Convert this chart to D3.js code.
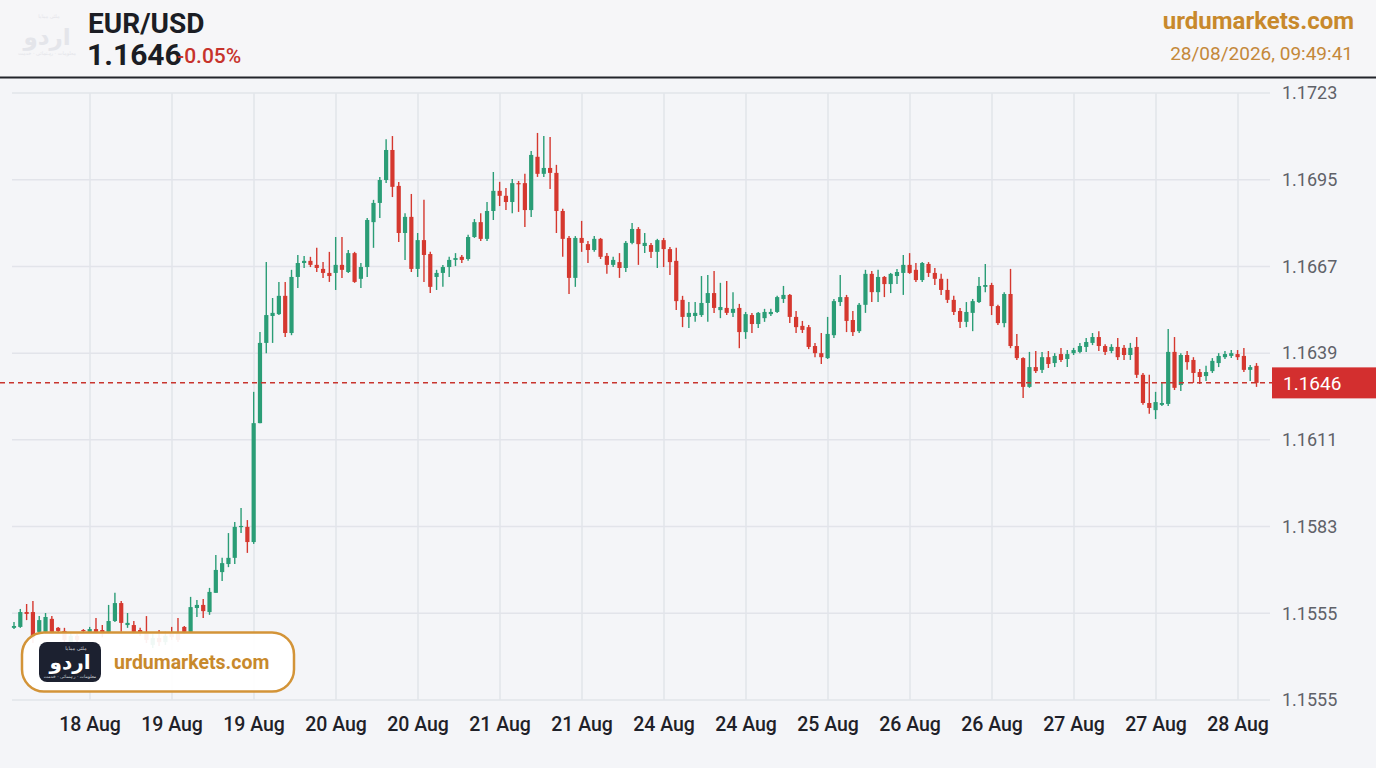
<!DOCTYPE html>
<html><head><meta charset="utf-8">
<script src="https://cdn.jsdelivr.net/npm/d3@7/dist/d3.min.js"></script>
<style>
html,body{margin:0;padding:0;background:#f4f5f8;}
svg{display:block;font-family:Roboto,"Noto Sans",sans-serif;}
</style></head><body>
<svg id="c" width="1376" height="768"></svg>
<script>
// ---------- DATA ----------
const symbol = "EUR/USD";
const lastPriceLabel = "1.1646";
const changeLabel = "-0.05%";
const siteName = "urdumarkets.com";
const timestamp = "28/08/2026, 09:49:41";
const dayLabels = ["18 Aug","19 Aug","19 Aug","20 Aug","20 Aug","21 Aug","21 Aug","24 Aug","24 Aug","25 Aug","26 Aug","26 Aug","27 Aug","27 Aug","28 Aug"];
const yTickValues = [1.1723,1.1695,1.1667,1.1639,1.1611,1.1583,1.1555,1.1527];
const yTickLabels = ["1.1723","1.1695","1.1667","1.1639","1.1611","1.1583","1.1555","1.1555"];

const opens = [
1.15503,1.15506,1.15554,1.15554,1.15490,1.15490,1.15532,1.15503,1.15493,1.15457,
1.15477,1.15496,1.15490,1.15499,1.15496,1.15490,1.15525,1.15583,1.15512,1.15512,
1.15496,1.15490,1.15448,1.15470,1.15457,1.15483,1.15486,1.15506,1.15490,1.15567,
1.15577,1.15554,1.15616,1.15683,1.15709,1.15729,1.15829,1.15829,1.15780,1.16164,
1.16423,1.16510,1.16516,1.16575,1.16455,1.16636,1.16681,1.16688,1.16675,1.16662,
1.16649,1.16649,1.16675,1.16652,1.16713,1.16630,1.16668,1.16813,1.16875,1.16949,
1.17046,1.16930,1.16778,1.16830,1.16662,1.16755,1.16710,1.16636,1.16649,1.16668,
1.16691,1.16701,1.16694,1.16765,1.16813,1.16759,1.16849,1.16914,1.16898,1.16878,
1.16939,1.16939,1.16852,1.17024,1.16969,1.16988,1.16972,1.16849,1.16762,1.16633,
1.16762,1.16742,1.16723,1.16759,1.16704,1.16675,1.16684,1.16665,1.16746,1.16791,
1.16736,1.16739,1.16717,1.16755,1.16726,1.16688,1.16562,1.16507,1.16510,1.16513,
1.16552,1.16584,1.16529,1.16536,1.16520,1.16536,1.16458,1.16513,1.16484,1.16503,
1.16516,1.16523,1.16565,1.16578,1.16507,1.16478,1.16474,1.16413,1.16390,1.16374,
1.16448,1.16555,1.16571,1.16497,1.16461,1.16546,1.16646,1.16587,1.16636,1.16613,
1.16639,1.16649,1.16675,1.16659,1.16626,1.16678,1.16649,1.16630,1.16594,1.16562,
1.16526,1.16491,1.16520,1.16555,1.16604,1.16610,1.16542,1.16487,1.16581,1.16413,
1.16374,1.16281,1.16345,1.16336,1.16377,1.16358,1.16387,1.16371,1.16390,1.16394,
1.16410,1.16423,1.16442,1.16413,1.16397,1.16410,1.16407,1.16384,1.16410,1.16320,
1.16229,1.16206,1.16223,1.16226,1.16394,1.16287,1.16384,1.16368,1.16329,1.16316,
1.16332,1.16358,1.16377,1.16381,1.16387,1.16381,1.16336,1.16349];

const highs = [
1.15522,1.15564,1.15580,1.15590,1.15541,1.15551,1.15541,1.15506,1.15503,1.15486,
1.15483,1.15499,1.15506,1.15535,1.15512,1.15577,1.15616,1.15590,1.15551,1.15525,
1.15503,1.15541,1.15483,1.15496,1.15490,1.15506,1.15535,1.15509,1.15603,1.15593,
1.15596,1.15632,1.15738,1.15729,1.15809,1.15845,1.15890,1.15851,1.16265,1.16458,
1.16684,1.16568,1.16620,1.16620,1.16659,1.16707,1.16704,1.16701,1.16730,1.16684,
1.16717,1.16765,1.16765,1.16723,1.16717,1.16681,1.16826,1.16885,1.16959,1.17081,
1.17091,1.16943,1.16842,1.16904,1.16778,1.16885,1.16717,1.16659,1.16675,1.16701,
1.16713,1.16707,1.16772,1.16823,1.16842,1.16878,1.16975,1.16943,1.16923,1.16952,
1.16946,1.16969,1.17043,1.17101,1.17091,1.17088,1.16998,1.16856,1.16768,1.16768,
1.16817,1.16752,1.16768,1.16762,1.16713,1.16701,1.16713,1.16752,1.16810,1.16797,
1.16778,1.16746,1.16759,1.16762,1.16733,1.16730,1.16575,1.16555,1.16555,1.16639,
1.16642,1.16655,1.16617,1.16623,1.16587,1.16549,1.16523,1.16520,1.16523,1.16533,
1.16533,1.16575,1.16607,1.16581,1.16526,1.16494,1.16481,1.16423,1.16455,1.16507,
1.16565,1.16642,1.16578,1.16526,1.16552,1.16659,1.16655,1.16659,1.16639,1.16649,
1.16662,1.16707,1.16713,1.16681,1.16684,1.16684,1.16665,1.16646,1.16630,1.16575,
1.16536,1.16555,1.16565,1.16636,1.16678,1.16617,1.16546,1.16587,1.16662,1.16452,
1.16377,1.16394,1.16397,1.16394,1.16397,1.16390,1.16407,1.16400,1.16407,1.16423,
1.16439,1.16455,1.16461,1.16419,1.16419,1.16439,1.16416,1.16423,1.16442,1.16326,
1.16320,1.16265,1.16294,1.16468,1.16442,1.16390,1.16397,1.16377,1.16339,1.16349,
1.16374,1.16390,1.16397,1.16400,1.16400,1.16407,1.16352,1.16358];

const lows = [
1.15499,1.15503,1.15528,1.15454,1.15480,1.15483,1.15483,1.15483,1.15451,1.15444,
1.15448,1.15490,1.15486,1.15483,1.15473,1.15483,1.15522,1.15490,1.15503,1.15483,
1.15477,1.15454,1.15438,1.15444,1.15448,1.15464,1.15457,1.15483,1.15486,1.15538,
1.15535,1.15545,1.15616,1.15654,1.15699,1.15709,1.15809,1.15745,1.15774,1.16164,
1.16390,1.16423,1.16513,1.16442,1.16448,1.16600,1.16665,1.16668,1.16652,1.16633,
1.16620,1.16594,1.16633,1.16649,1.16617,1.16600,1.16636,1.16730,1.16826,1.16939,
1.16894,1.16749,1.16691,1.16652,1.16636,1.16620,1.16584,1.16594,1.16604,1.16636,
1.16671,1.16681,1.16688,1.16762,1.16752,1.16752,1.16820,1.16865,1.16852,1.16842,
1.16846,1.16797,1.16830,1.16959,1.16959,1.16920,1.16778,1.16701,1.16581,1.16604,
1.16717,1.16681,1.16717,1.16694,1.16646,1.16668,1.16633,1.16652,1.16742,1.16675,
1.16713,1.16697,1.16665,1.16668,1.16642,1.16529,1.16474,1.16471,1.16491,1.16507,
1.16491,1.16520,1.16503,1.16513,1.16507,1.16406,1.16436,1.16455,1.16471,1.16491,
1.16510,1.16520,1.16552,1.16487,1.16455,1.16455,1.16403,1.16377,1.16355,1.16371,
1.16439,1.16542,1.16458,1.16445,1.16455,1.16520,1.16555,1.16555,1.16571,1.16584,
1.16613,1.16578,1.16646,1.16620,1.16620,1.16636,1.16610,1.16578,1.16552,1.16513,
1.16471,1.16474,1.16461,1.16552,1.16587,1.16513,1.16481,1.16474,1.16406,1.16368,
1.16245,1.16278,1.16326,1.16326,1.16342,1.16345,1.16361,1.16345,1.16384,1.16390,
1.16394,1.16416,1.16397,1.16384,1.16390,1.16368,1.16368,1.16368,1.16310,1.16223,
1.16194,1.16177,1.16219,1.16219,1.16271,1.16268,1.16336,1.16294,1.16290,1.16300,
1.16326,1.16345,1.16371,1.16374,1.16368,1.16329,1.16300,1.16281];

const closes = [
1.15509,1.15554,1.15548,1.15470,1.15528,1.15538,1.15490,1.15493,1.15464,1.15477,
1.15464,1.15493,1.15499,1.15490,1.15483,1.15525,1.15583,1.15519,1.15519,1.15490,
1.15486,1.15464,1.15470,1.15457,1.15477,1.15473,1.15464,1.15490,1.15570,1.15577,
1.15557,1.15619,1.15690,1.15712,1.15729,1.15829,1.15832,1.15780,1.16164,1.16423,
1.16513,1.16520,1.16575,1.16455,1.16636,1.16681,1.16688,1.16675,1.16665,1.16649,
1.16639,1.16675,1.16659,1.16713,1.16620,1.16668,1.16820,1.16875,1.16949,1.17046,
1.16927,1.16778,1.16830,1.16662,1.16755,1.16707,1.16604,1.16649,1.16668,1.16691,
1.16697,1.16691,1.16765,1.16813,1.16759,1.16849,1.16914,1.16898,1.16878,1.16939,
1.16936,1.16852,1.17030,1.16969,1.16988,1.16972,1.16849,1.16759,1.16633,1.16762,
1.16746,1.16723,1.16759,1.16701,1.16675,1.16691,1.16665,1.16746,1.16791,1.16742,
1.16746,1.16717,1.16755,1.16726,1.16684,1.16558,1.16507,1.16520,1.16520,1.16552,
1.16584,1.16536,1.16539,1.16520,1.16533,1.16458,1.16516,1.16484,1.16520,1.16523,
1.16523,1.16571,1.16578,1.16507,1.16474,1.16465,1.16410,1.16390,1.16377,1.16452,
1.16558,1.16571,1.16494,1.16458,1.16546,1.16646,1.16587,1.16636,1.16613,1.16646,
1.16652,1.16675,1.16649,1.16626,1.16681,1.16649,1.16630,1.16594,1.16562,1.16523,
1.16491,1.16523,1.16558,1.16607,1.16610,1.16542,1.16487,1.16581,1.16413,1.16374,
1.16281,1.16345,1.16332,1.16377,1.16355,1.16381,1.16368,1.16387,1.16400,1.16413,
1.16426,1.16442,1.16413,1.16394,1.16410,1.16377,1.16384,1.16407,1.16320,1.16229,
1.16213,1.16232,1.16229,1.16394,1.16278,1.16384,1.16361,1.16326,1.16313,1.16329,
1.16365,1.16381,1.16387,1.16390,1.16377,1.16336,1.16345,1.16294];

// ---------- CHART ----------
const svg = d3.select("#c");
const W = 1376, H = 768;
const plot = {left:12, right:1270, top:93, bottom:700};
const GREEN = "#2a9d76", RED = "#d5382f";

svg.append("rect").attr("width",W).attr("height",H).attr("fill","#f4f5f8");

const y = d3.scaleLinear().domain([d3.min(yTickValues), d3.max(yTickValues)]).range([plot.bottom, plot.top]);
const x = d3.scaleLinear().domain([0, opens.length-1]).range([14, 1256.5]);
const xDay = d3.scalePoint().domain(d3.range(dayLabels.length)).range([90, 1238]);

// horizontal gridlines
svg.append("g").selectAll("line").data(yTickValues).join("line")
  .attr("x1",plot.left).attr("x2",plot.right)
  .attr("y1",d=>y(d)).attr("y2",d=>y(d))
  .attr("stroke","#e2e4ea").attr("stroke-width",1.5);
// vertical gridlines
svg.append("g").selectAll("line").data(dayLabels.map((d,i)=>i)).join("line")
  .attr("x1",d=>xDay(d)).attr("x2",d=>xDay(d))
  .attr("y1",plot.top).attr("y2",plot.bottom)
  .attr("stroke","#e2e4ea").attr("stroke-width",1.5);

// y labels
svg.append("g").selectAll("text").data(yTickValues).join("text")
  .attr("x",1282).attr("y",d=>y(d)).attr("dy","0.35em")
  .attr("font-size",18).attr("fill","#5f6168")
  .text((d,i)=>yTickLabels[i]);

// x labels
svg.append("g").selectAll("text").data(dayLabels).join("text")
  .attr("x",(d,i)=>xDay(i)).attr("y",724.5).attr("dy","0.35em")
  .attr("text-anchor","middle").attr("font-size",19.5).attr("font-weight",500).attr("fill","#1f2128")
  .text(d=>d);

// candles
const candles = opens.map((o,i)=>({i,o,h:highs[i],l:lows[i],c:closes[i]}));
const g = svg.append("g");
g.selectAll("line").data(candles).join("line")
  .attr("x1",d=>x(d.i)).attr("x2",d=>x(d.i))
  .attr("y1",d=>y(d.h)).attr("y2",d=>y(d.l))
  .attr("stroke",d=>d.c>=d.o?GREEN:RED).attr("stroke-width",1.4);
g.selectAll("rect").data(candles).join("rect")
  .attr("x",d=>x(d.i)-2.1).attr("width",4.2)
  .attr("y",d=>y(Math.max(d.o,d.c)))
  .attr("height",d=>Math.max(1.2, Math.abs(y(d.o)-y(d.c))))
  .attr("fill",d=>d.c>=d.o?GREEN:RED);

// last price line
const last = closes[closes.length-1];
svg.append("line").attr("x1",0).attr("x2",1272).attr("y1",y(last)).attr("y2",y(last))
  .attr("stroke","#c8352e").attr("stroke-width",1.5).attr("stroke-dasharray","5,4");
svg.append("rect").attr("x",1272).attr("y",y(last)-15.5).attr("width",104).attr("height",31).attr("fill","#d32f2f");
svg.append("text").attr("x",1283).attr("y",y(last)).attr("dy","0.36em")
  .attr("font-size",19).attr("fill","#fff").text(lastPriceLabel);

// header
svg.append("rect").attr("x",0).attr("y",0).attr("width",W).attr("height",77).attr("fill","#f6f6f8");
svg.append("line").attr("x1",0).attr("x2",W).attr("y1",77.5).attr("y2",77.5).attr("stroke","#23252b").attr("stroke-width",2);
// faint watermark logo
svg.append("text").attr("x",47).attr("y",45).attr("text-anchor","middle")
  .attr("font-family","'DejaVu Sans',sans-serif").attr("font-size",23).attr("font-weight","bold")
  .attr("fill","#e4e5ea").text("اردو");
svg.append("text").attr("x",49).attr("y",18).attr("text-anchor","middle")
  .attr("font-family","'DejaVu Sans',sans-serif").attr("font-size",5).attr("fill","#e4e5ea").text("ملٹی میڈیا");
svg.append("text").attr("x",47).attr("y",55).attr("text-anchor","middle")
  .attr("font-family","'DejaVu Sans',sans-serif").attr("font-size",5).attr("fill","#e4e5ea").text("معلومات · رہنمائی · خدمت");

svg.append("text").attr("x",88).attr("y",33).attr("font-size",28).attr("font-weight",700).attr("fill","#1b1d24").text(symbol);
svg.append("text").attr("x",87).attr("y",65).attr("font-size",30).attr("font-weight",700).attr("fill","#1b1d24").text(lastPriceLabel);
svg.append("text").attr("x",177).attr("y",63).attr("font-size",21).attr("font-weight",500).attr("fill","#c7332c").text(changeLabel);

svg.append("text").attr("x",1354).attr("y",29).attr("text-anchor","end").attr("font-size",24).attr("font-weight",700).attr("fill","#c8892c").text(siteName);
svg.append("text").attr("x",1353).attr("y",60).attr("text-anchor","end").attr("font-size",19).attr("fill","#c4883a").text(timestamp);

// bottom-left badge
const b = svg.append("g");
b.append("rect").attr("x",22).attr("y",632.5).attr("width",272).attr("height",59).attr("rx",22)
  .attr("fill","#ffffff").attr("fill-opacity",0.93).attr("stroke","#d39438").attr("stroke-width",2.5);
b.append("rect").attr("x",39).attr("y",642).attr("width",62).attr("height",40).attr("rx",8).attr("fill","#1c2130");
b.append("text").attr("x",70).attr("y",669).attr("text-anchor","middle")
  .attr("font-family","'DejaVu Sans',sans-serif").attr("font-size",20).attr("font-weight","bold").attr("fill","#fff").text("اردو");
b.append("text").attr("x",76).attr("y",650).attr("text-anchor","middle")
  .attr("font-family","'DejaVu Sans',sans-serif").attr("font-size",5).attr("fill","#cfd3da").text("ملٹی میڈیا");
b.append("text").attr("x",70).attr("y",678).attr("text-anchor","middle")
  .attr("font-family","'DejaVu Sans',sans-serif").attr("font-size",4.5).attr("fill","#cfd3da").text("معلومات · رہنمائی · خدمت");
b.append("text").attr("x",114).attr("y",669).attr("font-size",19.5).attr("font-weight",700).attr("fill","#c8892c").text(siteName);
</script>
</body></html>
